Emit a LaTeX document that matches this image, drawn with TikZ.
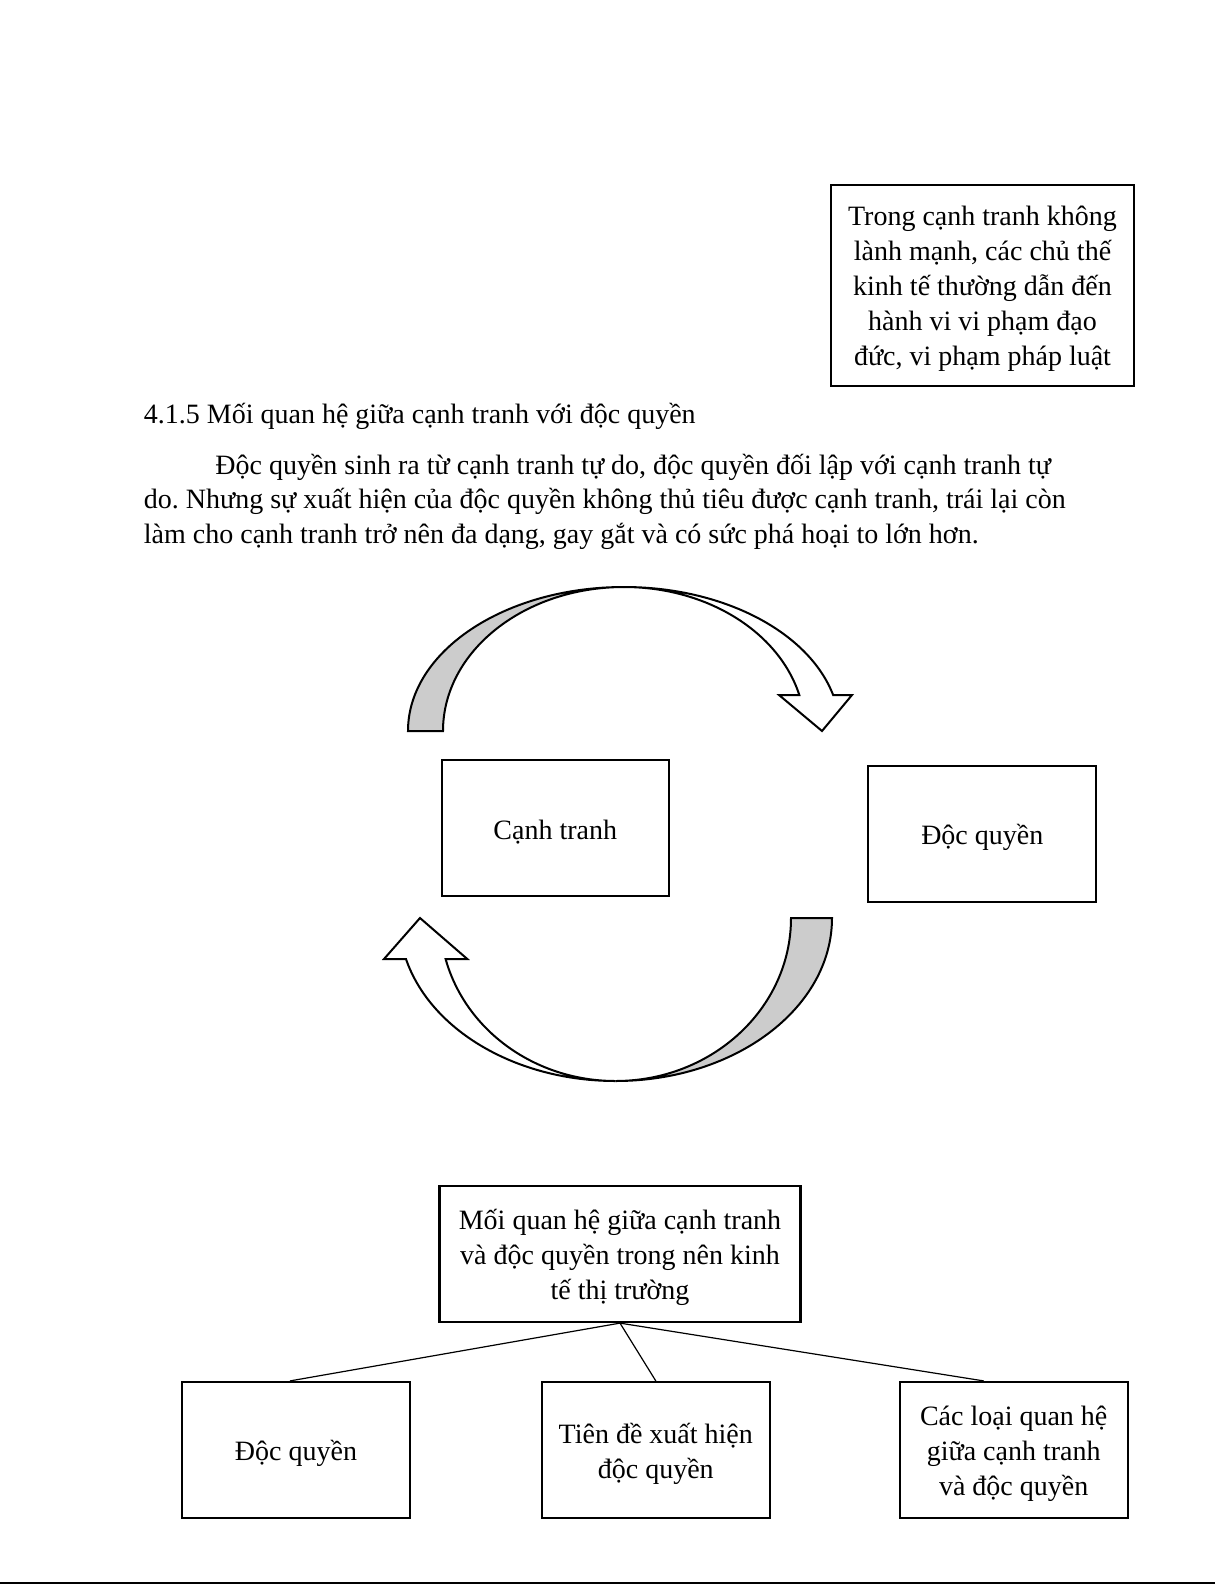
\documentclass[tikz,border=0pt]{standalone}
\usepackage{fontspec}
\setmainfont{Liberation Serif}
\usepackage{tikz}
\definecolor{bandgray}{HTML}{CCCCCC}
\newcommand\bodysize{\fontsize{14pt}{17.5pt}\selectfont}
\frenchspacing

\begin{document}
\begin{tikzpicture}[x=0.5pt, y=0.5pt, font=\bodysize,
  box/.style={draw, line width=1.1pt, inner sep=0pt,
    minimum width=114pt, minimum height=68pt},
  boxtext/.style={align=center, inner sep=0pt, yshift=-1.8pt},
  textline/.style={inner sep=0pt, anchor=base west},
  band/.style={draw, line width=1pt, line join=miter}]
  \useasboundingbox (0,0) rectangle (1225,-1585);

  \node[box, minimum width=151.5pt, minimum height=100.5pt,
    label={[boxtext]center:{Trong cạnh tranh không\\ lành mạnh, các chủ thế\\kinh tế thường dẫn đến\\hành vi vi phạm đạo\\đức, vi phạm pháp luật}}]
    (note) at (982.5,-285.5) {};

  \node[textline] (heading) at (143.5,-423.5) {4.1.5 Mối quan hệ giữa cạnh tranh với độc quyền};
  \node[textline] (para1) at (215,-474) {Độc quyền sinh ra từ cạnh tranh tự do, độc quyền đối lập với cạnh tranh tự};
  \node[textline] (para2) at (143.5,-508) {do. Nhưng sự xuất hiện của độc quyền không thủ tiêu được cạnh tranh, trái lại còn};
  \node[textline] (para3) at (143.5,-543) {làm cho cạnh tranh trở nên đa dạng, gay gắt và có sức phá hoại to lớn hơn.};

  \draw[band, fill=bandgray] (408,-731)
    arc[start angle=180, end angle=90, x radius=108pt, y radius=72pt]
    arc[start angle=90, end angle=180, x radius=90.5pt, y radius=72pt] -- cycle;
  \draw[band, fill=white] (624,-587)
    arc[start angle=90, end angle=14.48, x radius=108pt, y radius=72pt]
    -- (852,-695) -- (822,-731) -- (779,-695) -- (799.3,-695)
    arc[start angle=14.48, end angle=90, x radius=90.5pt, y radius=72pt] -- cycle;

  \node[box, minimum width=113.5pt, label={[boxtext]center:Cạnh tranh}] (compete) at (555.3,-828.3) {};
  \node[box, label={[boxtext]center:Độc quyền}] (monopoly) at (982.3,-833.8) {};

  \draw[band, fill=bandgray] (832,-918)
    arc[start angle=0, end angle=-90, x radius=108.25pt, y radius=81.5pt]
    arc[start angle=-90, end angle=0, x radius=87.75pt, y radius=81.5pt] -- cycle;
  \draw[band, fill=white] (615.5,-1081)
    arc[start angle=-90, end angle=-165.43, x radius=108.25pt, y radius=81.5pt]
    -- (384,-959) -- (420,-918) -- (467.3,-959) -- (445.6,-959)
    arc[start angle=-165.43, end angle=-90, x radius=87.75pt, y radius=81.5pt] -- cycle;

  \node[box, minimum width=180.5pt,
    label={[boxtext]center:{Mối quan hệ giữa cạnh tranh\\ và độc quyền trong nên kinh\\tế thị trường}}]
    (relation) at (620,-1254) {};
  \node[box, label={[boxtext]center:Độc quyền}] (kind1) at (296,-1450) {};
  \node[box, label={[boxtext]center:{Tiên đề xuất hiện\\độc quyền}}] (kind2) at (655.8,-1450) {};
  \node[box, label={[boxtext]center:{Các loại quan hệ\\giữa cạnh tranh\\và độc quyền}}] (kind3) at (1013.7,-1450) {};

  \draw[line width=0.6pt] (relation.south) -- ([xshift=-3pt]kind1.north);
  \draw[line width=0.6pt] (relation.south) -- (kind2.north);
  \draw[line width=0.6pt] (relation.south) -- ([xshift=-15pt]kind3.north);

  \draw[line width=1pt] (0,-1583) -- (1215,-1583);
\end{tikzpicture}
\end{document}
